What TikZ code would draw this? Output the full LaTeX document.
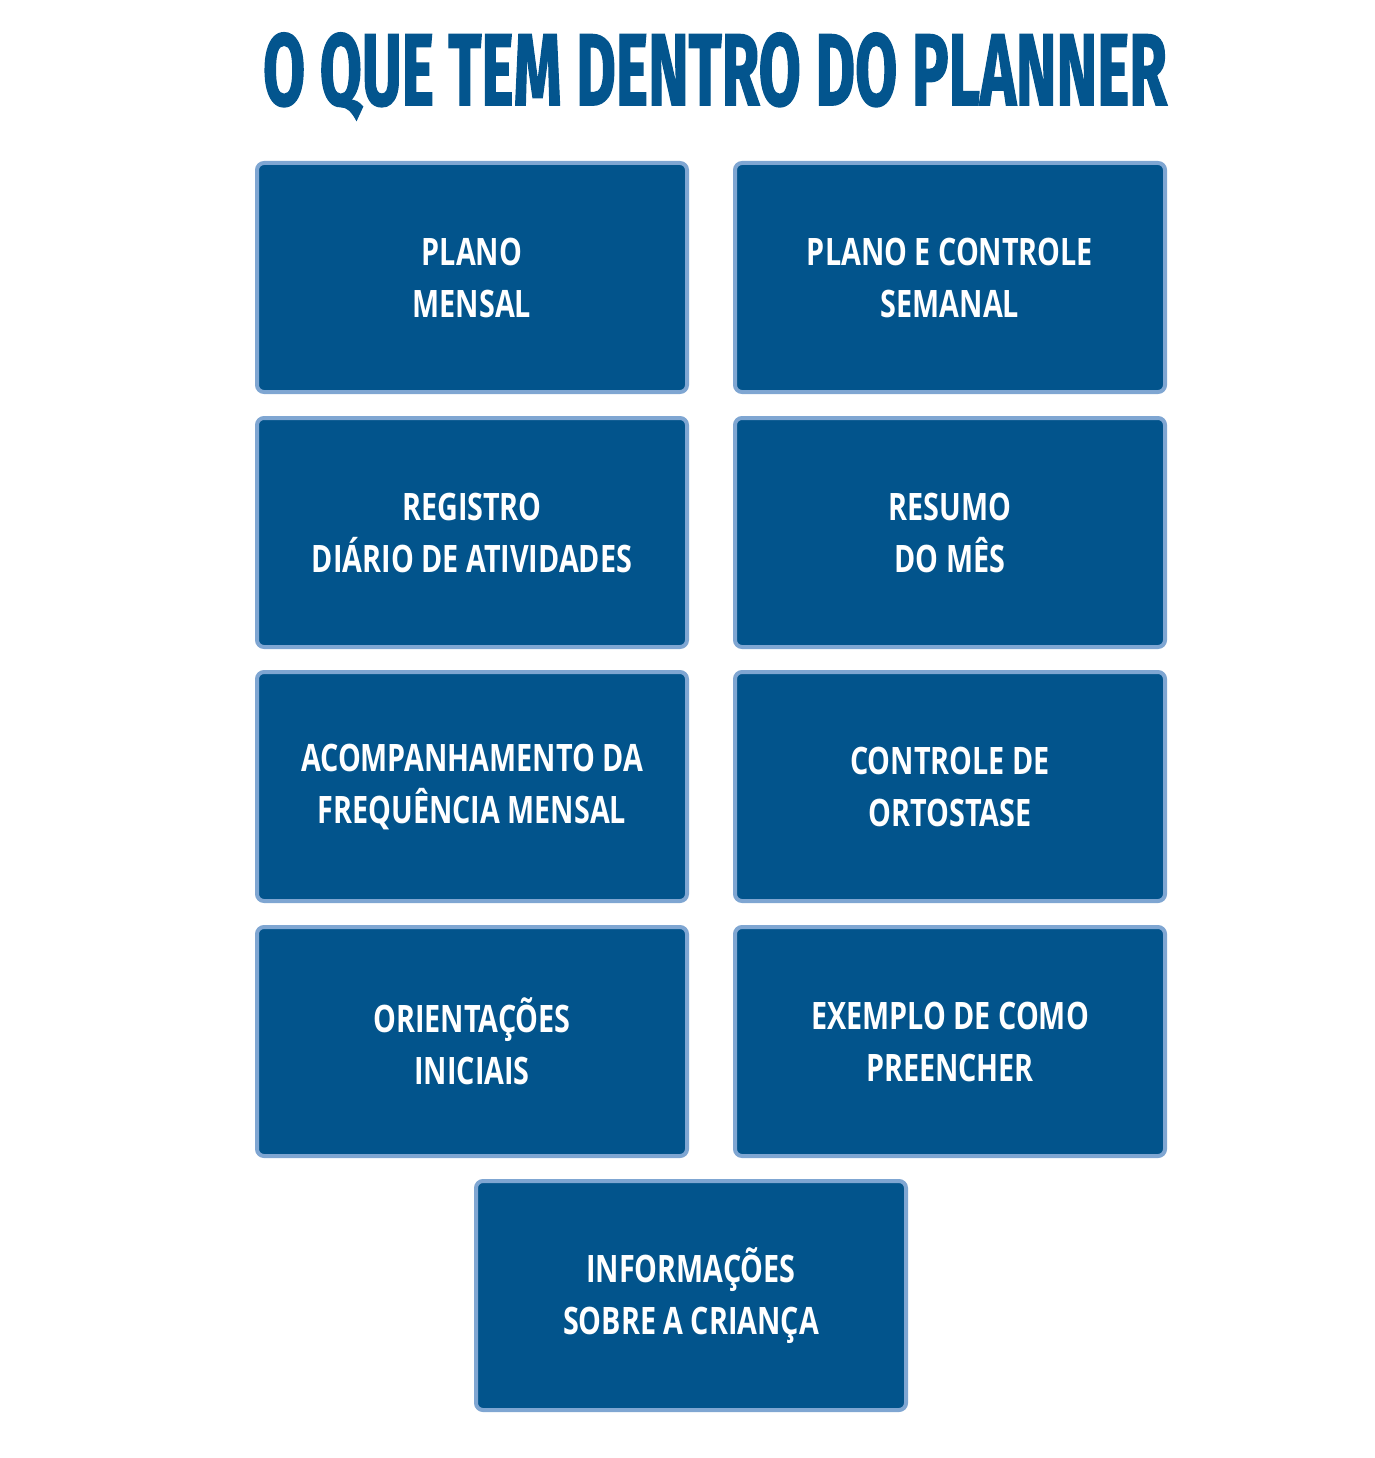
\documentclass[tikz,border=0pt]{standalone}
\usepackage{fontspec}
\newfontfamily\boxfont[FakeStretch=0.76]{Open Sans}
\newfontfamily\titlefont[FakeBold=1.8]{Fira Sans}
\definecolor{boxblue}{HTML}{02548C}
\definecolor{boxedge}{HTML}{7FA6D2}
\definecolor{titleblue}{HTML}{03558E}
\tikzset{
  planbox/.style={rectangle, rounded corners=7pt, fill=boxblue, draw=boxedge,
    line width=4pt, minimum width=430pt, minimum height=229pt, inner sep=0pt},
  itemtxt/.style={align=center, text=white, inner sep=0pt,
    font=\boxfont\bfseries\fontsize{37.8}{52}\selectfont},
}
\newcommand\planitem[4]{%
  \node[planbox] (#1) at (#2,#3) {};
  \node[itemtxt] (#1-t) at (#1.center) {#4};
}
\begin{document}
\begin{tikzpicture}[x=1pt,y=-1pt]
\useasboundingbox (0,0) rectangle (1374,1458);
\node[anchor=base, inner sep=0pt, text=titleblue] (title) at (715,105)
  {\resizebox{904pt}{\height}{\titlefont\bfseries\fontsize{101.6}{110}\selectfont O QUE TEM DENTRO DO PLANNER}};
\planitem{b1}{472}{277.5}{PLANO\\MENSAL}
\planitem{b2}{950}{277.5}{PLANO E CONTROLE\\SEMANAL}
\planitem{b3}{472}{532.5}{REGISTRO\\DIÁRIO DE ATIVIDADES}
\planitem{b4}{950}{532.5}{RESUMO\\DO MÊS}
\planitem{b5}{472}{786.5}{ACOMPANHAMENTO DA\\FREQUÊNCIA MENSAL}
\planitem{b6}{950}{786.5}{CONTROLE DE\\ORTOSTASE}
\planitem{b7}{472}{1041.5}{ORIENTAÇÕES\\INICIAIS}
\planitem{b8}{950}{1041.5}{EXEMPLO DE COMO\\PREENCHER}
\planitem{b9}{691}{1295.5}{INFORMAÇÕES\\SOBRE A CRIANÇA}
\end{tikzpicture}
\end{document}
